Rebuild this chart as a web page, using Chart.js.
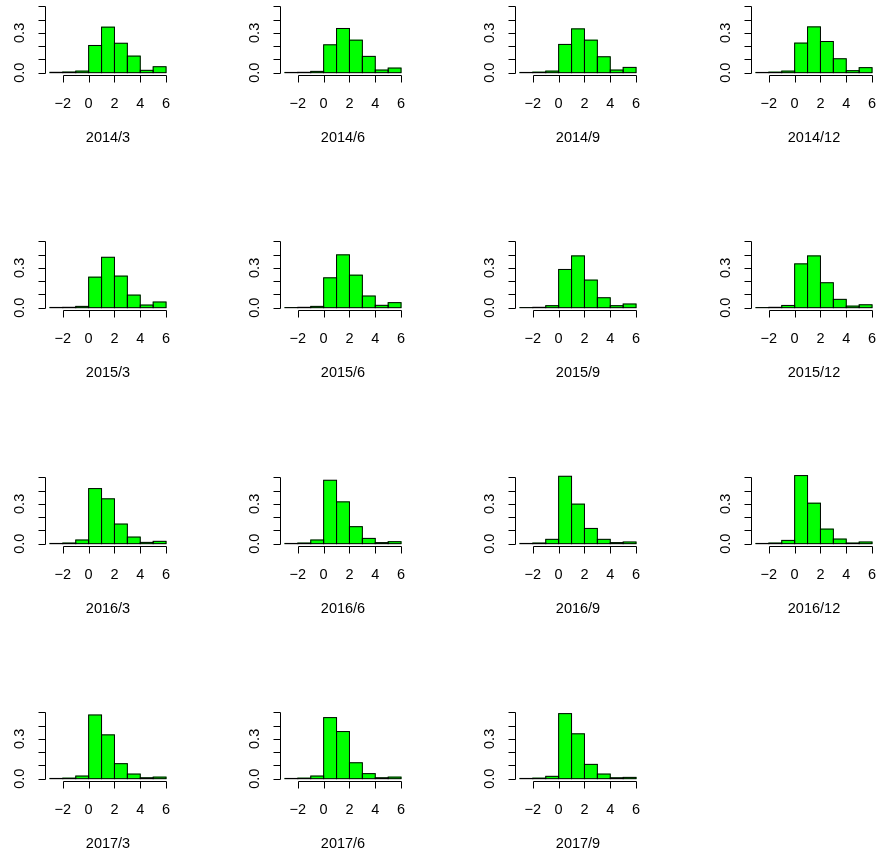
<!DOCTYPE html>
<html lang="en">
<head>
<meta charset="UTF-8">
<script src="https://cdn.jsdelivr.net/npm/chart.js@4.4.0/dist/chart.umd.min.js"></script>
<title>Histograms</title>
<style>
  html, body { margin: 0; padding: 0; background: #fff; overflow: hidden; }
  .wrapper { position: relative; width: 877px; height: 854px; overflow: hidden; }
  .cell { position: absolute; width: 235px; height: 235px; }
</style>
</head>
<body>
<div class="wrapper" id="wrapper"></div>
<script>
// bins of width 1, from -3 to 6
const binStarts = [-3, -2, -1, 0, 1, 2, 3, 4, 5];

const periods = ['2014/3', '2014/6', '2014/9', '2014/12',
                 '2015/3', '2015/6', '2015/9', '2015/12',
                 '2016/3', '2016/6', '2016/9', '2016/12',
                 '2017/3', '2017/6', '2017/9'];

// densities per bin
const d2014_3  = [0.003, 0.005, 0.012, 0.205, 0.343, 0.222, 0.125, 0.018, 0.045];
const d2014_6  = [0.002, 0.003, 0.010, 0.210, 0.333, 0.245, 0.123, 0.020, 0.035];
const d2014_9  = [0.002, 0.004, 0.012, 0.213, 0.330, 0.245, 0.120, 0.020, 0.040];
const d2014_12 = [0.002, 0.004, 0.012, 0.223, 0.345, 0.235, 0.105, 0.015, 0.038];
const d2015_3  = [0.002, 0.003, 0.010, 0.230, 0.380, 0.238, 0.095, 0.020, 0.043];
const d2015_6  = [0.001, 0.003, 0.010, 0.225, 0.398, 0.245, 0.088, 0.018, 0.038];
const d2015_9  = [0.001, 0.003, 0.015, 0.288, 0.390, 0.208, 0.075, 0.015, 0.028];
const d2015_12 = [0.001, 0.003, 0.017, 0.330, 0.390, 0.188, 0.063, 0.012, 0.022];
const d2016_3  = [0.002, 0.005, 0.028, 0.415, 0.338, 0.148, 0.050, 0.010, 0.018];
const d2016_6  = [0.002, 0.005, 0.028, 0.478, 0.315, 0.128, 0.040, 0.008, 0.015];
const d2016_9  = [0.002, 0.005, 0.033, 0.508, 0.298, 0.115, 0.033, 0.008, 0.013];
const d2016_12 = [0.002, 0.005, 0.025, 0.513, 0.305, 0.110, 0.035, 0.005, 0.013];
const d2017_3  = [0.002, 0.004, 0.020, 0.480, 0.330, 0.113, 0.035, 0.007, 0.012];
const d2017_6  = [0.002, 0.004, 0.020, 0.460, 0.355, 0.120, 0.038, 0.007, 0.012];
const d2017_9  = [0.002, 0.004, 0.018, 0.490, 0.338, 0.108, 0.035, 0.007, 0.010];

const densities = [d2014_3, d2014_6, d2014_9, d2014_12,
                   d2015_3, d2015_6, d2015_9, d2015_12,
                   d2016_3, d2016_6, d2016_9, d2016_12,
                   d2017_3, d2017_6, d2017_9];

const xTicks = [-2, 0, 2, 4, 6];
const xTickLabels = ['\u22122', '0', '2', '4', '6'];
const yTicks = [0, 0.1, 0.2, 0.3, 0.4, 0.5];
const yTickLabels = ['0.0', '', '', '0.3', '', ''];

const FONT = '14.5px "Liberation Sans", Arial, Helvetica, sans-serif';

// R style outlines + axes, placed with the chart's own scales
const rStyle = {
  id: 'rStyle',
  afterDatasetsDraw(chart) {
    const ctx = chart.ctx;
    ctx.save();
    ctx.strokeStyle = '#000';
    ctx.lineWidth = 1;
    chart.getDatasetMeta(0).data.forEach(bar => {
      const p = bar.getProps(['x', 'y', 'base', 'width'], true);
      ctx.strokeRect(p.x - p.width / 2, Math.min(p.y, p.base), p.width, Math.abs(p.base - p.y));
    });
    ctx.restore();
  },
  afterDraw(chart, args, opts) {
    const ctx = chart.ctx, xs = chart.scales.x, ys = chart.scales.y, area = chart.chartArea;
    ctx.save();
    ctx.strokeStyle = '#000';
    ctx.fillStyle = '#000';
    ctx.lineWidth = 1;
    ctx.font = FONT;

    // x axis
    const ax = Math.round(area.bottom) + 0.5;
    ctx.beginPath();
    ctx.moveTo(Math.round(xs.getPixelForValue(xTicks[0])) + 0.5, ax);
    ctx.lineTo(Math.round(xs.getPixelForValue(xTicks[xTicks.length - 1])) + 0.5, ax);
    xTicks.forEach(v => {
      const px = Math.round(xs.getPixelForValue(v)) + 0.5;
      ctx.moveTo(px, ax);
      ctx.lineTo(px, ax + 7);
    });
    ctx.stroke();
    ctx.textAlign = 'center';
    ctx.textBaseline = 'alphabetic';
    xTicks.forEach((v, i) => {
      ctx.fillText(xTickLabels[i], xs.getPixelForValue(v), area.bottom + 33);
    });

    // y axis
    const ay = Math.round(area.left) + 0.5;
    ctx.beginPath();
    ctx.moveTo(ay, Math.round(ys.getPixelForValue(yTicks[0])) + 0.5);
    ctx.lineTo(ay, Math.round(ys.getPixelForValue(yTicks[yTicks.length - 1])) + 0.5);
    yTicks.forEach(v => {
      const py = Math.round(ys.getPixelForValue(v)) + 0.5;
      ctx.moveTo(ay, py);
      ctx.lineTo(ay - 7, py);
    });
    ctx.stroke();
    yTicks.forEach((v, i) => {
      if (!yTickLabels[i]) return;
      ctx.save();
      ctx.translate(area.left - 21, ys.getPixelForValue(v));
      ctx.rotate(-Math.PI / 2);
      ctx.fillText(yTickLabels[i], 0, 0);
      ctx.restore();
    });

    // panel label under the axis
    ctx.fillText(opts.title, (area.left + area.right) / 2, area.bottom + 67);
    ctx.restore();
  }
};

const wrapper = document.getElementById('wrapper');

periods.forEach((period, i) => {
  const col = i % 4, row = Math.floor(i / 4);
  const cell = document.createElement('div');
  cell.className = 'cell';
  cell.style.left = Math.round(235.2 * col) + 'px';
  cell.style.top = Math.round(235.3 * row) + 'px';
  const canvas = document.createElement('canvas');
  canvas.width = 235;
  canvas.height = 235;
  cell.appendChild(canvas);
  wrapper.appendChild(cell);

  new Chart(canvas, {
    type: 'bar',
    data: {
      datasets: [{
        data: densities[i].map((v, k) => ({ x: binStarts[k] + 0.5, y: v })),
        backgroundColor: '#00ff00',
        borderWidth: 0,
        barPercentage: 1,
        categoryPercentage: 1
      }]
    },
    options: {
      responsive: false,
      animation: false,
      events: [],
      layout: { padding: { left: 45.3, right: 64.3, top: 3.65, bottom: 159.65 } },
      scales: {
        x: {
          type: 'linear', min: -3.36, max: 6.36, display: false, offset: false,
          afterBuildTicks: s => { s.ticks = xTicks.map(v => ({ value: v })); }
        },
        y: { min: -0.02, max: 0.52, display: false }
      },
      plugins: {
        legend: { display: false },
        tooltip: { enabled: false },
        rStyle: { title: period }
      }
    },
    plugins: [rStyle]
  });
});
</script>
</body>
</html>
